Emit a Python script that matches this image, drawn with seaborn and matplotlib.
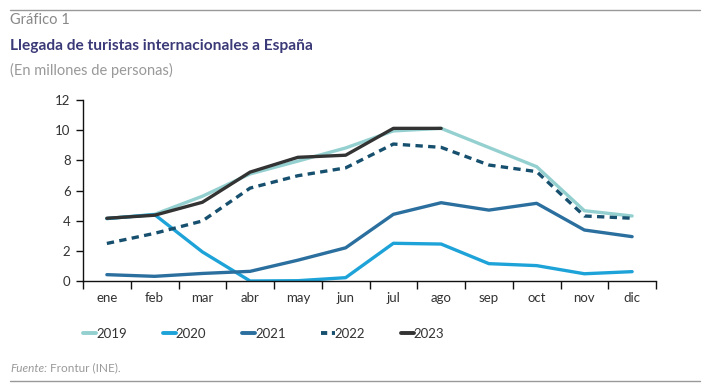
import matplotlib
matplotlib.use("Agg")
import matplotlib.pyplot as plt
import seaborn as sns
import pandas as pd
from matplotlib.lines import Line2D
from matplotlib.ticker import FixedLocator

months = ["ene", "feb", "mar", "abr", "may", "jun", "jul", "ago", "sep", "oct", "nov", "dic"]
y2019 = [4.14, 4.42, 5.62, 7.10, 7.95, 8.82, 9.95, 10.12, 8.85, 7.58, 4.66, 4.31]
y2020 = [4.14, 4.40, 1.93, 0.0, 0.02, 0.22, 2.50, 2.45, 1.15, 1.02, 0.48, 0.62]
y2021 = [0.42, 0.31, 0.50, 0.64, 1.38, 2.20, 4.42, 5.19, 4.70, 5.15, 3.38, 2.94]
y2022 = [2.49, 3.16, 3.98, 6.16, 6.98, 7.50, 9.08, 8.86, 7.69, 7.25, 4.31, 4.16]
y2023 = [4.16, 4.36, 5.22, 7.22, 8.20, 8.34, 10.12, 10.12]
series_names = ["2019", "2020", "2021", "2022", "2023"]
yticks = [0, 2, 4, 6, 8, 10, 12]

colors = {"2019": "#95d0d0", "2020": "#1ea3d9", "2021": "#2b6f9f", "2022": "#17506e", "2023": "#333333"}
dashes = {"2019": "", "2020": "", "2021": "", "2022": (2.2, 1.6), "2023": ""}

sns.set_theme(style="white")
fams = ["Lato", "Open Sans", "DejaVu Sans"]
plt.rcParams["font.family"] = fams

fig = plt.figure(figsize=(7.09, 3.89), dpi=100)
ax = fig.add_axes([83/709, 1-281/389, (656-83)/709, (281-100)/389])

data = {"2019": y2019, "2020": y2020, "2021": y2021, "2022": y2022, "2023": y2023}
for name in series_names:
    vals = data[name]
    df = pd.DataFrame({"mes": months[:len(vals)], "v": vals})
    line_kw = dict(color=colors[name], linewidth=2.4)
    if name == "2022":
        line_kw["linestyle"] = (0, dashes[name])
    sns.lineplot(data=df, x="mes", y="v", ax=ax, sort=False, **line_kw)

ax.set_xlim(-0.5, 11.5)
ax.set_ylim(0, 12)
ax.set_yticks(yticks)
ax.set_xticks(range(12))
ax.set_xticklabels(months)
ax.xaxis.set_minor_locator(FixedLocator([i - 0.5 for i in range(13)]))
ax.tick_params(axis="x", which="major", length=0, pad=8, labelsize=9.5, labelcolor="#333333")
ax.tick_params(axis="x", which="minor", length=6, width=1, color="#111111", direction="out", bottom=True)
ax.tick_params(axis="y", which="major", length=5, width=1, color="#111111", direction="out", left=True, labelsize=9.5, labelcolor="#333333", pad=4)
ax.set_xlabel("")
ax.set_ylabel("")
for s in ["top", "right"]:
    ax.spines[s].set_visible(False)
for s in ["left", "bottom"]:
    ax.spines[s].set_color("#111111")
    ax.spines[s].set_linewidth(1)
ax.grid(False)

handles = [Line2D([0], [0], color=colors[n], lw=2.8,
                  linestyle=(0, (1.6, 1.2)) if n == "2022" else "-") for n in series_names]
fig.legend(handles, series_names, loc="center", bbox_to_anchor=(0.372, 1-334/389),
           ncol=5, frameon=False, fontsize=9.5, handlelength=1.0, handletextpad=0.0,
           columnspacing=2.7, labelcolor="#333333")

# header
fig.add_artist(Line2D([10/709, 700/709], [1-10/389, 1-10/389], color="#999999", lw=1))
fig.text(10/709, 1-20/389, "Gráfico 1", fontsize=10.5, color="#888888", va="center")
fig.text(10/709, 1-46/389, "Llegada de turistas internacionales a España", fontsize=11.2,
         fontweight="bold", color="#3b3a78", va="center")
fig.text(10/709, 1-70/389, "(En millones de personas)", fontsize=10.5, color="#999999", va="center")

# footer
t1 = fig.text(10/709, 1-368/389, "Fuente:", fontsize=8.5, color="#999999", style="italic", va="center")
fig.canvas.draw()
bb = t1.get_window_extent()
fig.text(bb.x1/709 + 3/709, 1-368/389, "Frontur (INE).", fontsize=8.5, color="#999999", va="center")
fig.add_artist(Line2D([10/709, 700/709], [1-381/389, 1-381/389], color="#999999", lw=1))

fig.savefig("out.png", dpi=100)
